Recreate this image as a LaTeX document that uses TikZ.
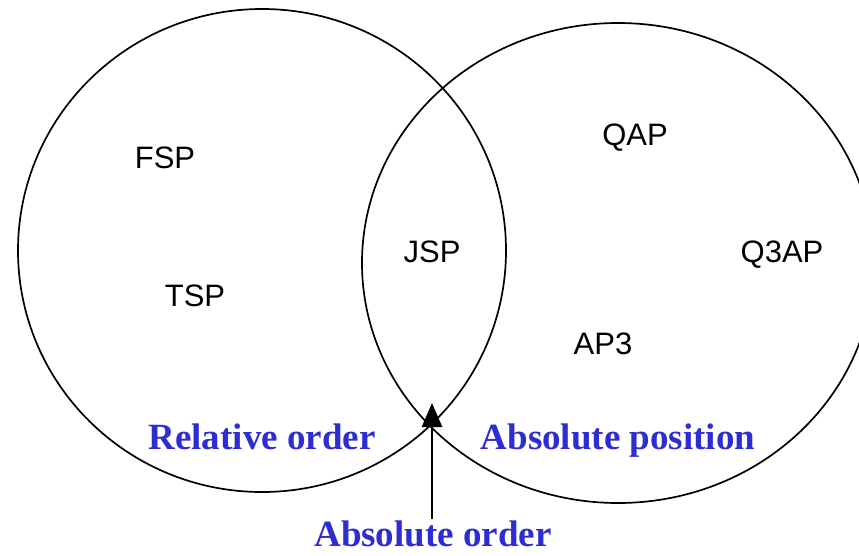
\documentclass[tikz,border=0pt]{standalone}
\usepackage{fontspec}
\setmainfont{Liberation Serif}
\newfontfamily\labelsans{Liberation Sans}
\usetikzlibrary{arrows.meta}
\definecolor{venblue}{RGB}{45,45,210}
\begin{document}
\begin{tikzpicture}[x=1pt,y=-1pt,
  setline/.style={line width=1.7pt,black},
  item/.style={anchor=base,inner sep=0pt,font=\labelsans\fontsize{31}{31}\selectfont},
  group/.style={anchor=base,inner sep=0pt,text depth=0pt,text=venblue,font=\bfseries\fontsize{37}{37}\selectfont},
  pointer/.style={line width=2.6pt,-{Triangle[length=24pt,width=20pt]}}]
\useasboundingbox (0,0) rectangle (859,555);
\begin{scope}
\clip (0,0) rectangle (859,555);
\draw[setline] (262,250.5) ellipse [x radius=244pt, y radius=241.5pt];
\draw[setline] (618,263) ellipse [x radius=256pt, y radius=240pt];
\end{scope}
\node[item] (fsp) at (165,168) {FSP};
\node[item] (tsp) at (195,306) {TSP};
\node[item] (jsp) at (432,262) {JSP};
\node[item] (qap) at (635,145) {QAP};
\node[item] (q3ap) at (782,262) {Q3AP};
\node[item] (ap3) at (603,354) {AP3};
\node[group] (rel) at (262,449) {Relative order};
\node[group] (abspos) at (618,449) {Absolute position};
\node[group] (absord) at (433,546) {Absolute order};
\coordinate (tail) at (432,519);
\coordinate (tip) at (432,403);
\draw[pointer] (tail) -- (tip);
\end{tikzpicture}
\end{document}
